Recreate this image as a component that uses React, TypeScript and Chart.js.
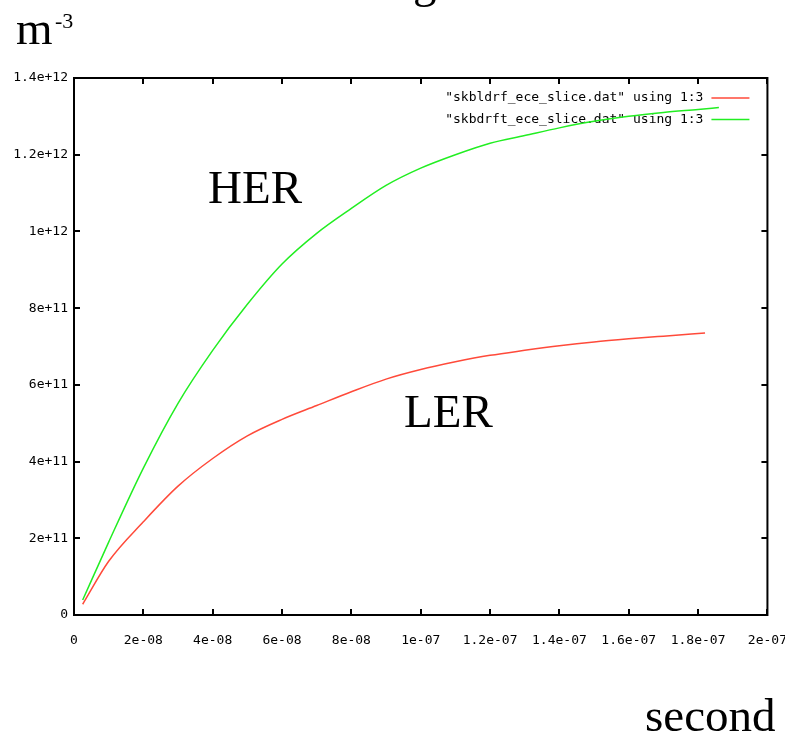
import React, { useEffect, useRef } from "react";
import { Chart, registerables } from "chart.js";

Chart.register(...registerables);

// LER: "skbldrf_ece_slice.dat" using 1:3
const lerTime = [2.5e-9, 1e-8, 2e-8, 3e-8, 4e-8, 5e-8, 6e-8, 7e-8, 8e-8, 9e-8, 1e-7, 1.1e-7, 1.2e-7, 1.3e-7, 1.4e-7, 1.5e-7, 1.6e-7, 1.7e-7, 1.82e-7];
const lerDensity = [2.8e10, 1.4e11, 2.43e11, 3.36e11, 4.08e11, 4.67e11, 5.1e11, 5.46e11, 5.82e11, 6.15e11, 6.4e11, 6.6e11, 6.77e11, 6.9e11, 7.02e11, 7.12e11, 7.2e11, 7.27e11, 7.35e11];

// HER: "skbdrft_ece_slice.dat" using 1:3
const herTime = [2.5e-9, 1e-8, 2e-8, 3e-8, 4e-8, 5e-8, 6e-8, 7e-8, 8e-8, 9e-8, 1e-7, 1.1e-7, 1.2e-7, 1.3e-7, 1.4e-7, 1.5e-7, 1.6e-7, 1.7e-7, 1.8e-7, 1.86e-7];
const herDensity = [3.9e10, 1.9e11, 3.83e11, 5.52e11, 6.9e11, 8.1e11, 9.15e11, 9.95e11, 1.06e12, 1.12e12, 1.165e12, 1.2e12, 1.23e12, 1.25e12, 1.27e12, 1.287e12, 1.3e12, 1.31e12, 1.318e12, 1.323e12];

const xTickValues = [0, 2e-8, 4e-8, 6e-8, 8e-8, 1e-7, 1.2e-7, 1.4e-7, 1.6e-7, 1.8e-7, 2e-7];
const xTickLabels = ["0", "2e-08", "4e-08", "6e-08", "8e-08", "1e-07", "1.2e-07", "1.4e-07", "1.6e-07", "1.8e-07", "2e-07"];
const yTickValues = [0, 2e11, 4e11, 6e11, 8e11, 1e12, 1.2e12, 1.4e12];
const yTickLabels = ["0", "2e+11", "4e+11", "6e+11", "8e+11", "1e+12", "1.2e+12", "1.4e+12"];

const legendLabels = ['"skbldrf_ece_slice.dat" using 1:3', '"skbdrft_ece_slice.dat" using 1:3'];
const seriesColors = ["#ff4a3a", "#22ee22"];

const MONO = "'DejaVu Sans Mono', monospace";
const SERIF = "'Liberation Serif', 'Times New Roman', serif";

const framePlugin = {
  id: "gnuplotFrame",
  beforeDatasetsDraw(chart: any) {
    const ctx = chart.ctx;
    const { right } = chart.chartArea;
    ctx.save();
    ctx.font = `13px ${MONO}`;
    ctx.textAlign = "right";
    ctx.textBaseline = "middle";
    chart.data.datasets.forEach((ds: any, i: number) => {
      const y = 98 + i * 21.5;
      ctx.fillStyle = "#000";
      ctx.fillText(ds.label, right - 64, y);
      ctx.strokeStyle = ds.borderColor;
      ctx.lineWidth = 1.5;
      ctx.beginPath();
      ctx.moveTo(right - 56, y);
      ctx.lineTo(right - 18, y);
      ctx.stroke();
    });
    ctx.restore();
  },
  afterDatasetsDraw(chart: any) {
    const ctx = chart.ctx;
    const { left, right, top, bottom } = chart.chartArea;
    const xs = chart.scales.x;
    const ys = chart.scales.y;
    const tl = 6;
    ctx.save();
    ctx.strokeStyle = "#000";
    ctx.lineWidth = 2;
    ctx.strokeRect(left, top, right - left, bottom - top);
    ctx.beginPath();
    xs.ticks.forEach((t: any) => {
      const px = Math.round(xs.getPixelForValue(t.value));
      ctx.moveTo(px, bottom);
      ctx.lineTo(px, bottom - tl);
      ctx.moveTo(px, top);
      ctx.lineTo(px, top + tl);
    });
    ys.ticks.forEach((t: any) => {
      const py = Math.round(ys.getPixelForValue(t.value));
      ctx.moveTo(left, py);
      ctx.lineTo(left + tl, py);
      ctx.moveTo(right, py);
      ctx.lineTo(right - tl, py);
    });
    ctx.stroke();
    ctx.restore();
  },
  afterDraw(chart: any) {
    const ctx = chart.ctx;
    ctx.save();
    ctx.fillStyle = "#000";
    ctx.textAlign = "left";
    ctx.textBaseline = "alphabetic";
    ctx.font = `47px ${SERIF}`;
    ctx.fillText("g", 413, -3);
    ctx.fillText("m", 16, 43.5);
    ctx.fillText("HER", 208, 203);
    ctx.fillText("LER", 404, 427);
    ctx.fillText("second", 645, 731);
    ctx.font = `22px ${SERIF}`;
    ctx.fillText("-3", 55, 28);
    ctx.restore();
  },
};

export default function App() {
  const canvasRef = useRef<HTMLCanvasElement | null>(null);

  useEffect(() => {
    const canvas = canvasRef.current;
    if (!canvas) return;
    const chart = new Chart(canvas, {
      type: "scatter",
      data: {
        datasets: [
          {
            label: legendLabels[0],
            data: lerTime.map((t, i) => ({ x: t, y: lerDensity[i] })),
            showLine: true,
            borderColor: seriesColors[0],
            backgroundColor: seriesColors[0],
            borderWidth: 1.5,
            pointRadius: 0,
            cubicInterpolationMode: "monotone",
          },
          {
            label: legendLabels[1],
            data: herTime.map((t, i) => ({ x: t, y: herDensity[i] })),
            showLine: true,
            borderColor: seriesColors[1],
            backgroundColor: seriesColors[1],
            borderWidth: 1.5,
            pointRadius: 0,
            cubicInterpolationMode: "monotone",
          },
        ],
      },
      options: {
        responsive: false,
        animation: false,
        events: [],
        layout: { padding: { left: 0, top: 78, right: 0, bottom: 85 } },
        plugins: {
          legend: { display: false },
          tooltip: { enabled: false },
          title: { display: false },
        },
        scales: {
          x: {
            type: "linear",
            min: 0,
            max: 2e-7,
            grid: { display: false, drawTicks: false },
            border: { display: false },
            afterBuildTicks: (scale: any) => {
              scale.ticks = xTickValues.map((v) => ({ value: v }));
            },
            afterFit: (scale: any) => {
              scale.height = 40;
            },
            ticks: {
              autoSkip: false,
              maxRotation: 0,
              padding: 18,
              color: "#000",
              font: { family: MONO, size: 13 },
              callback: (_v: any, i: number) => xTickLabels[i],
            },
          },
          y: {
            type: "linear",
            min: 0,
            max: 1.4e12,
            grid: { display: false, drawTicks: false },
            border: { display: false },
            afterBuildTicks: (scale: any) => {
              scale.ticks = yTickValues.map((v) => ({ value: v }));
            },
            afterFit: (scale: any) => {
              scale.width = 74;
            },
            ticks: {
              autoSkip: false,
              padding: 6,
              color: "#000",
              font: { family: MONO, size: 13 },
              callback: (_v: any, i: number) => yTickLabels[i],
            },
          },
        },
      },
      plugins: [framePlugin],
    } as any);
    return () => chart.destroy();
  }, []);

  return (
    <div
      style={{
        position: "absolute",
        left: 0,
        top: 0,
        width: 785,
        height: 740,
        overflow: "hidden",
        background: "#fff",
      }}
    >
      <canvas ref={canvasRef} width={805} height={740} style={{ display: "block" }} />
    </div>
  );
}
